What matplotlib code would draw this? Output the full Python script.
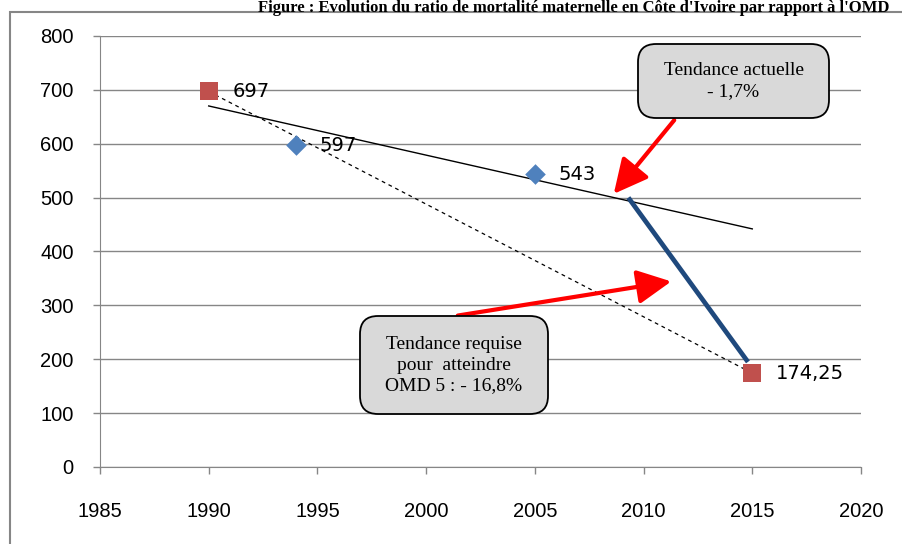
import numpy as np
import matplotlib
matplotlib.use("Agg")
import matplotlib.pyplot as plt
from matplotlib.patches import Rectangle, FancyBboxPatch, FancyArrowPatch

# Data
omd_years = [1990, 2015]
omd_values = [697, 174.25]
obs_years = [1994, 2005]
obs_values = [597, 543]
label_texts = {1990: "697", 1994: "597", 2005: "543", 2015: "174,25"}
blue_seg_x = [2009.3, 2014.8]
blue_seg_y = [500, 195]
x_ticks = [1985, 1990, 1995, 2000, 2005, 2010, 2015, 2020]
y_ticks = [0, 100, 200, 300, 400, 500, 600, 700, 800]

W, H = 902, 544
fig = plt.figure(figsize=(W / 100, H / 100), dpi=100)
ax = fig.add_axes([100 / W, 1 - 467 / H, 761 / W, 431 / H])

grid_c = "#868686"
ax.set_xlim(1985, 2020)
ax.set_ylim(0, 800)
ax.set_yticks(y_ticks)
ax.set_xticks(x_ticks)
ax.yaxis.grid(True, color=grid_c, lw=1.0)
ax.set_axisbelow(True)
for s in ["top", "right"]:
    ax.spines[s].set_visible(False)
for s in ["left", "bottom"]:
    ax.spines[s].set_color(grid_c)
ax.tick_params(axis="both", colors=grid_c, length=5, width=1, labelcolor="black",
               labelsize=14.5)
ax.tick_params(axis="x", pad=20)
ax.tick_params(axis="y", pad=14)
for lab in ax.get_xticklabels() + ax.get_yticklabels():
    lab.set_fontfamily(["Liberation Sans", "DejaVu Sans"])

# Trend line (linear fit of observed data, Excel-like trendline)
all_x = np.array([omd_years[0]] + obs_years)
all_y = np.array([omd_values[0]] + obs_values)
coef = np.polyfit(all_x, all_y, 1)
tx = np.array([1990, 2015])
ax.plot(tx, np.polyval(coef, tx), color="black", lw=1.0, zorder=3)

# Required trend (dotted)
ax.plot(omd_years, omd_values, color="black", lw=0.9, ls=(0, (3, 3)), zorder=3)

# Blue thick segment
ax.plot(blue_seg_x, blue_seg_y, color="#1F497D", lw=3.4, solid_capstyle="butt", zorder=4)

# Markers
ax.scatter(omd_years, omd_values, marker="s", s=150, color="#C0504D", zorder=5, linewidths=0)
ax.scatter(obs_years, obs_values, marker="D", s=110, color="#4F81BD", zorder=5, linewidths=0)

for x, y in zip(omd_years + obs_years, omd_values + obs_values):
    ax.annotate(label_texts[x], (x, y), xytext=(17, 0), textcoords="offset points",
                va="center", ha="left", fontsize=14, color="black",
                family=["DejaVu Sans"], zorder=6)

# Callout boxes (figure pixel coordinates)
def px(x, y):
    return x / W, 1 - y / H

def callout(x0, y0, x1, y1, text):
    bx, by = px(x0, y1)
    box = FancyBboxPatch((bx, by), (x1 - x0) / W, (y1 - y0) / H,
                         boxstyle="round,pad=0,rounding_size=0.02",
                         transform=fig.transFigure, facecolor="#D9D9D9",
                         edgecolor="black", lw=1.3, zorder=10, mutation_aspect=W / H)
    fig.patches.append(box)
    cx, cy = px((x0 + x1) / 2, (y0 + y1) / 2)
    fig.text(cx, cy, text, ha="center", va="center", fontsize=14,
             family=["Liberation Serif", "DejaVu Serif"], linespacing=1.25, zorder=11)

callout(638, 44, 829, 118, "Tendance actuelle\n- 1,7%")
callout(360, 316, 548, 414, "Tendance requise\npour  atteindre\nOMD 5 : - 16,8%")

# Red arrows
for (a, b) in [((676, 118), (612, 196)), ((455, 316), (674, 281))]:
    fig.add_artist(FancyArrowPatch(px(*a), px(*b),
                   transform=fig.transFigure, arrowstyle="-|>,head_length=8,head_width=4",
                   mutation_scale=2.6, color="#FF0000", lw=3, zorder=9))

# Outer frame
fig.patches.append(Rectangle(px(10, 700), 2.0, (700 - 12) / H, transform=fig.transFigure,
                             fill=False, edgecolor=grid_c, lw=1.5, zorder=1))

# Title
fig.text(890 / W, 1 - 0.5 / H,
         "Figure : Evolution du ratio de mortalité maternelle en Côte d'Ivoire par rapport à l'OMD",
         ha="right", va="top", fontsize=12, fontweight="bold",
         family=["Liberation Serif", "DejaVu Serif"])

fig.savefig("out.png", dpi=100)
